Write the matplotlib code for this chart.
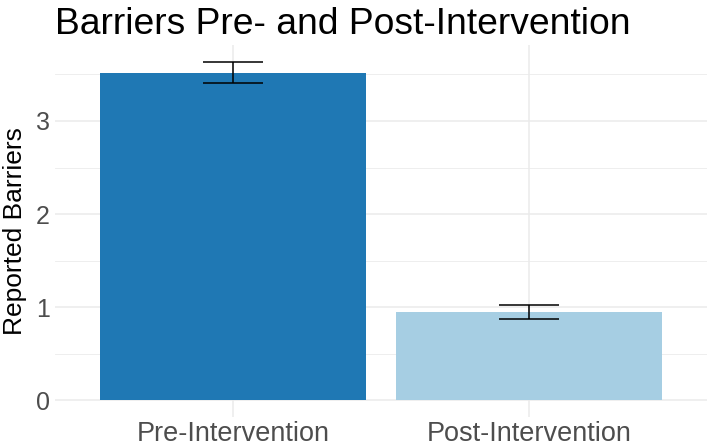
import matplotlib
matplotlib.use("Agg")
import matplotlib.pyplot as plt
import numpy as np

categories = ["Pre-Intervention", "Post-Intervention"]
means = [3.52, 0.95]
errors = [0.117, 0.075]
colors = ["#1f78b4", "#a6cee3"]

plt.rcParams['font.family'] = ['Liberation Sans', 'DejaVu Sans']

fig = plt.figure(figsize=(7.08, 4.48), dpi=100)
ax = fig.add_axes([0.078, 0.069, 0.92, 0.831])

x = np.arange(1, len(categories) + 1)
ax.bar(x, means, width=0.9, color=colors, zorder=2)
ax.errorbar(x, means, yerr=errors, fmt='none', ecolor='black', elinewidth=1.1,
            capsize=21.3, capthick=1.1, zorder=3)

ax.set_xlim(0.4, 2.6)
top = max(m + e for m, e in zip(means, errors))
ax.set_ylim(-0.05 * top, top * 1.05)

ax.set_yticks([0, 1, 2, 3])
ax.set_yticks([0.5, 1.5, 2.5, 3.5], minor=True)
ax.set_xticks(x)
ax.set_xticklabels(categories)

ax.grid(True, which='major', color='#ebebeb', linewidth=1.1, zorder=0)
ax.grid(True, which='minor', axis='y', color='#ebebeb', linewidth=0.6, zorder=0)
ax.set_axisbelow(True)

for s in ax.spines.values():
    s.set_visible(False)
ax.tick_params(axis='both', which='both', length=0, labelsize=18, colors='#4d4d4d', pad=4)
ax.tick_params(axis='x', labelsize=19.5, pad=3)

ax.set_ylabel("Reported Barriers", fontsize=19, color='black', labelpad=6)
fig.text(0.078, 0.985, "Barriers Pre- and Post-Intervention", fontsize=26.8,
         ha='left', va='top', color='black')

fig.savefig("out.png", dpi=100)
